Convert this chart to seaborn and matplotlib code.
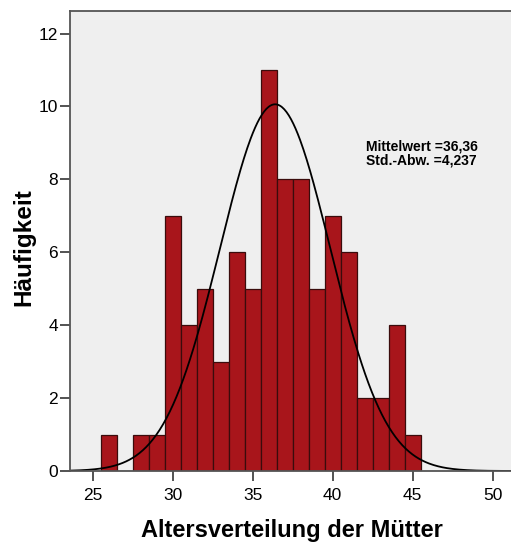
import numpy as np
import pandas as pd
import matplotlib
matplotlib.use("Agg")
import matplotlib.pyplot as plt
import seaborn as sns

# ---- data ----
ages = [26, 27, 28, 29, 30, 31, 32, 33, 34, 35, 36, 37, 38, 39, 40, 41, 42, 43, 44, 45]
counts = [1, 0, 1, 1, 7, 4, 5, 3, 6, 5, 11, 8, 8, 5, 7, 6, 2, 2, 4, 1]
x_ticks = [25, 30, 35, 40, 45, 50]
y_ticks = [0, 2, 4, 6, 8, 10, 12]
stat_mean = "36,36"
stat_sd = "4,237"
# normal curve overlay as drawn (centre / visual width / scale)
curve_center = 36.4
curve_width = 3.45
bin_width = 1.0

df = pd.DataFrame({"age": ages, "count": counts})
bin_range = (min(ages) - bin_width / 2, max(ages) + bin_width / 2)

sns.set_theme(style="white")
plt.rcParams["font.family"] = ["Liberation Sans", "DejaVu Sans"]
plt.rcParams["text.color"] = "black"
plt.rcParams["axes.labelcolor"] = "black"

W, H = 511, 544
fig = plt.figure(figsize=(W / 100, H / 100), dpi=100)
left, right, top, bottom = 70, 514, 11, 471
ax = fig.add_axes([left / W, (H - bottom) / H, (right - left) / W, (bottom - top) / H])
ax.set_facecolor("#EFEFEF")

sns.histplot(data=df, x="age", weights="count", binwidth=bin_width, binrange=bin_range, ax=ax,
             color="#A8151B", edgecolor="#3A0C0C", linewidth=0.9, alpha=1.0)

xs = np.linspace(23.5, 51.5, 400)
n_total = sum(counts)
ys = n_total * bin_width / (curve_width * np.sqrt(2 * np.pi)) * np.exp(-0.5 * ((xs - curve_center) / curve_width) ** 2)
sns.lineplot(x=xs, y=ys, ax=ax, color="black", linewidth=1.3)

ax.set_xlim(23.58, 51.33)
ax.set_ylim(0, 12.62)
ax.set_xticks(x_ticks)
ax.set_yticks(y_ticks)
ax.tick_params(axis="both", which="major", direction="out", length=7, width=1.3,
               color="#444444", labelsize=12.5, labelcolor="black",
               bottom=True, left=True)
ax.tick_params(axis="y", pad=1.5)
ax.tick_params(axis="x", pad=5)

for s in ["left", "bottom", "top", "right"]:
    ax.spines[s].set_color("#555555")
    ax.spines[s].set_linewidth(1.3)

ax.set_xlabel("Altersverteilung der Mütter", fontsize=17, fontweight="bold", labelpad=12)
ax.set_ylabel("Häufigkeit", fontsize=17.5, fontweight="bold", labelpad=8)
ax.yaxis.set_label_coords(-35 / (right - left), 0.487)

ax.text(45.56, 8.71, f"Mittelwert ={stat_mean}\nStd.-Abw. ={stat_sd}",
        ha="center", va="center", fontsize=10, fontweight="bold", color="black",
        linespacing=0.95)

fig.savefig("out.png", dpi=100, facecolor="white")
